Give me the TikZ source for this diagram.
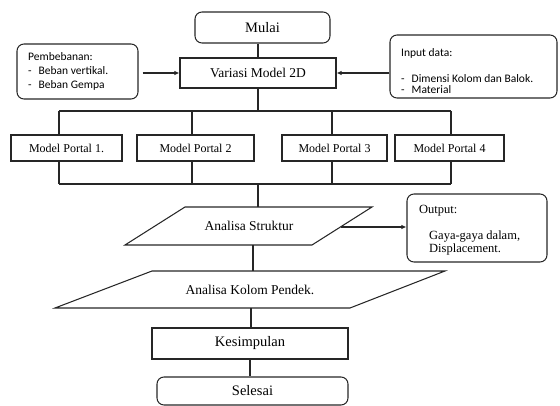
\documentclass[tikz,border=0pt]{standalone}
\usepackage{fontspec}
\setmainfont{Liberation Serif}
\newfontfamily\sidefont{Carlito}
\usetikzlibrary{arrows.meta,calc}
\begin{document}
\begin{tikzpicture}[x=1pt,y=-1pt,
  ln/.style={draw=black!85, line width=1.05pt},
  arr/.style={ln, -{Latex[length=5pt,width=4.5pt]}},
  sbox/.style={ln, rectangle, inner sep=0pt, font=\fontsize{13.5}{15}\selectfont},
  rbox/.style={sbox, rounded corners=7pt},
  pbox/.style={sbox, font=\fontsize{12}{14}\selectfont},
  ptext/.style={inner sep=0pt, font=\fontsize{13.5}{15}\selectfont},
  sidetext/.style={inner sep=0pt, align=left, font=\sidefont\fontsize{11.5}{14}\selectfont},
  outtext/.style={inner sep=0pt, align=left, font=\fontsize{12.5}{13}\selectfont}
]
\useasboundingbox (0,0) rectangle (560,406);

% top
\node[rbox, minimum width=135, minimum height=31, font=\fontsize{14.5}{16}\selectfont] (mulai) at (262.5,27.5) {Mulai};
\node[sbox, minimum width=156, minimum height=30] (var) at (258,73) {Variasi Model 2D};

% side boxes
\node[rbox, minimum width=121, minimum height=55] (beban) at (77.5,71.5) {};
\node[sidetext, anchor=north west] (bebantxt) at (28,52) {Pemb\-ebanan:\\-\hspace{7pt}Beban vertikal.\\-\hspace{7pt}Beban Gempa};

\node[rbox, minimum width=167, minimum height=63] (input) at (473.5,66.5) {};
\begin{scope}
\clip (input.north west) rectangle ([yshift=-1pt]input.south east);
\node[sidetext, font=\sidefont\fontsize{11.5}{11}\selectfont, anchor=north west] (inputtxt) at (401,48) {Input data:\\[15pt]-\hspace{7pt}Dimensi Kolom dan Balok.\\-\hspace{7pt}Material};
\end{scope}

% portals
\node[pbox, minimum width=111, minimum height=26] (p1) at (66.5,148) {Model Portal 1.};
\node[pbox, minimum width=117, minimum height=26] (p2) at (195.5,148) {Model Portal 2};
\node[pbox, minimum width=105, minimum height=26] (p3) at (334.5,148) {Model Portal 3};
\node[pbox, minimum width=109, minimum height=26] (p4) at (449.5,148) {Model Portal 4};

% bus coordinates
\coordinate (tb) at (258,111);
\coordinate (bb) at (258,184);
\coordinate (d1) at (59,0);
\coordinate (d2) at (192,0);
\coordinate (d3) at (332,0);
\coordinate (d4) at (451,0);

% analisa struktur
\coordinate (as1) at (125,245);
\coordinate (as2) at (185,207);
\coordinate (as3) at (372,207);
\coordinate (as4) at (312,245);
\node[ptext] (as) at (249,226) {Analisa Struktur};
\coordinate (asT) at (258,207);
\coordinate (asB) at (253,245);
\coordinate (asR) at (341,227);

% output
\node[rbox, minimum width=140, minimum height=68] (out) at (477,228) {};
\node[outtext, anchor=north west] (outtxt) at (419,205) {Output:\\[13pt]\hspace{10pt}Gaya-gaya dalam,\\\hspace{10pt}Displacement.};

% analisa kolom pendek
\coordinate (ak1) at (55,308);
\coordinate (ak2) at (152,271);
\coordinate (ak3) at (445,271);
\coordinate (ak4) at (350,308);
\node[ptext] (ak) at (250,290) {Analisa Kolom Pendek.};
\coordinate (akT) at (253,271);
\coordinate (akB) at (251,308);

% bottom
\node[sbox, minimum width=196, minimum height=31, font=\fontsize{14.5}{16}\selectfont] (kes) at (250,343.5) {Kesimpulan};
\node[rbox, minimum width=191, minimum height=28, font=\fontsize{14.5}{16}\selectfont] (sel) at (252.5,391) {Selesai};

% shapes
\draw[ln] (as1) -- (as2) -- (as3) -- (as4) -- cycle;
\draw[ln] (ak1) -- (ak2) -- (ak3) -- (ak4) -- cycle;

% connectors
\draw[ln] (var.north) -- (var.north |- mulai.south);
\draw[arr, shorten <=4pt] (var.west -| beban.east) -- (var.west);
\draw[arr] (var.east -| input.west) -- (var.east);
\draw[ln] (var.south) -- (tb);
\draw[ln] (d1 |- tb) -- (d4 |- tb);
\draw[ln] (d1 |- tb) -- (d1 |- p1.north);
\draw[ln] (d2 |- tb) -- (d2 |- p2.north);
\draw[ln] (d3 |- tb) -- (d3 |- p3.north);
\draw[ln] (d4 |- tb) -- (d4 |- p4.north);
\draw[ln] (d1 |- p1.south) -- (d1 |- bb);
\draw[ln] (d2 |- p2.south) -- (d2 |- bb);
\draw[ln] (d3 |- p3.south) -- (d3 |- bb);
\draw[ln] (d4 |- p4.south) -- (d4 |- bb);
\draw[ln] (d1 |- bb) -- (d4 |- bb);
\draw[ln] (bb) -- (asT);
\draw[arr] (asR) -- (asR -| out.west);
\draw[ln] (asB) -- (akT);
\draw[ln] (akB) -- (akB |- kes.north);
\draw[ln] (kes.south) -- (kes.south |- sel.north);
\end{tikzpicture}
\end{document}
